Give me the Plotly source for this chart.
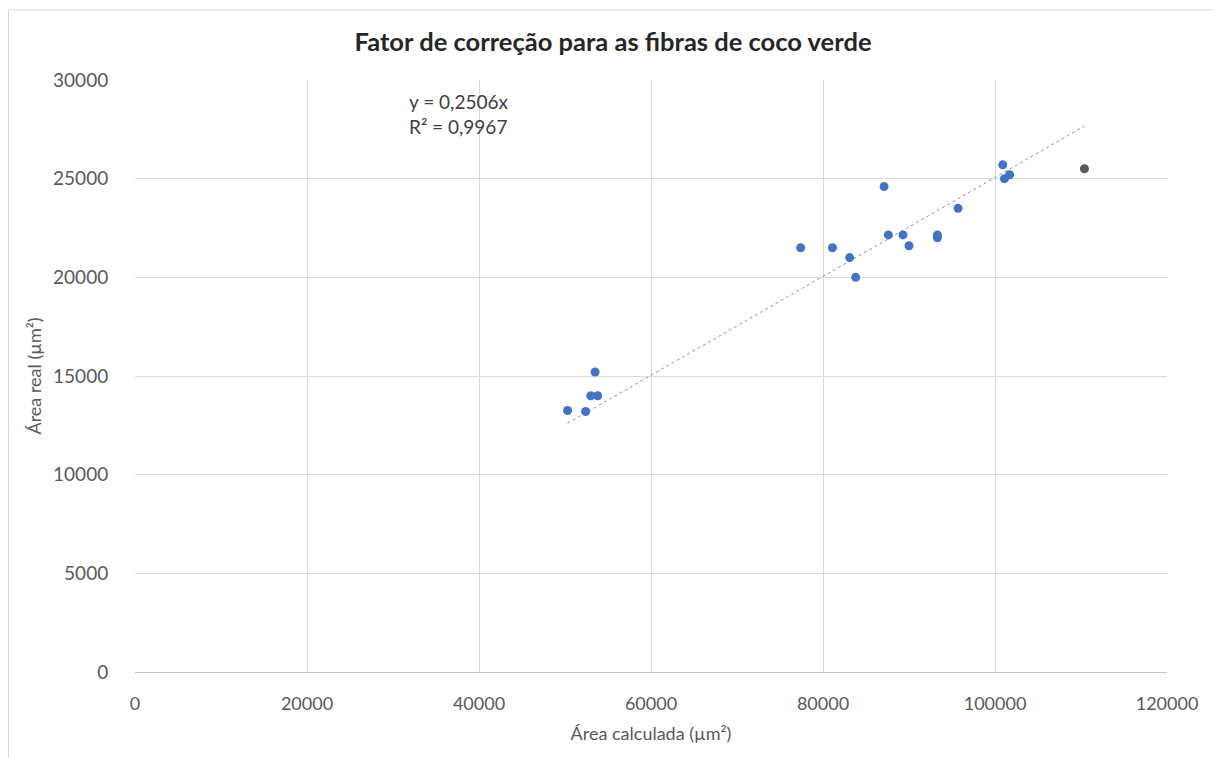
import plotly.graph_objects as go

# Data
area_calculada = [50300, 52400, 53000, 53800, 53500, 77400, 81100, 83100, 83800, 87100, 87600,
                  89300, 90000, 93300, 93300, 95700, 100900, 101100, 101700, 110400]
area_real = [13250, 13200, 14000, 14000, 15200, 21500, 21500, 21000, 20000, 24600, 22150,
             22150, 21600, 22150, 22000, 23500, 25700, 25000, 25200, 25500]
point_colors = ["#4472c4"] * 19 + ["#595959"]

slope = 0.2506
r2 = 0.9967
trend_x = [min(area_calculada), max(area_calculada)]
trend_y = [slope * v for v in trend_x]

x_ticks = [0, 20000, 40000, 60000, 80000, 100000, 120000]
y_ticks = [0, 5000, 10000, 15000, 20000, 25000, 30000]

FONT = "Lato"
fig = go.Figure()
fig.add_trace(go.Scatter(x=trend_x, y=trend_y, mode="lines",
                         line=dict(color="#8497b0", width=1, dash="dot"),
                         showlegend=False, hoverinfo="skip"))
fig.add_trace(go.Scatter(x=area_calculada, y=area_real, mode="markers",
                         marker=dict(color=point_colors, size=9),
                         showlegend=False))

# page body has an 8px margin: figure sits at (8, 8) in the window
W, H = 1214, 750
L, R, T, B = 127, 55, 72, 86
pw, ph = W - L - R, H - T - B

fig.update_layout(
    width=W, height=H,
    margin=dict(l=L, r=R, t=T, b=B),
    paper_bgcolor="white", plot_bgcolor="white",
    font=dict(family=FONT, color="#595959", size=18),
    title=dict(text="<b>Fator de correção para as fibras de coco verde</b>",
               x=(613 - 8) / W, xanchor="center", y=1 - 34 / H, yanchor="middle",
               font=dict(size=25.5, color="#262626", family=FONT)),
    xaxis=dict(range=[0, 120000], tickvals=x_ticks, ticktext=[str(v) for v in x_ticks],
               showgrid=True, gridcolor="#d9d9d9", gridwidth=1,
               showline=True, linecolor="#bfbfbf", zeroline=False,
               ticks="outside", ticklen=15, tickcolor="rgba(0,0,0,0)",
               title=dict(text="Área calculada (µm²)", font=dict(size=18, color="#595959"), standoff=14),
               tickfont=dict(size=18)),
    yaxis=dict(range=[0, 30000], tickvals=y_ticks, ticktext=[str(v) for v in y_ticks],
               showgrid=True, gridcolor="#d9d9d9", gridwidth=1,
               showline=False, zeroline=False,
               ticks="outside", ticklen=22, tickcolor="rgba(0,0,0,0)",
               title=dict(text="Área real (µm²)", font=dict(size=18, color="#595959"), standoff=6),
               tickfont=dict(size=19)),
    annotations=[dict(x=31600, y=29600, xref="x", yref="y", xanchor="left", yanchor="top",
                      align="left", showarrow=False,
                      text=f"y = {str(slope).replace('.', ',')}x<br>R² = {str(r2).replace('.', ',')}",
                      font=dict(size=19, color="#404040"))],
    shapes=[dict(type="rect", xref="paper", yref="paper",
                 x0=-(L - 0.5) / pw, x1=1 + (R - 3) / pw,
                 y0=-(B + 20) / ph, y1=1 + (T - 2) / ph,
                 line=dict(color="#d9d9d9", width=1), fillcolor="rgba(0,0,0,0)")],
)

fig.write_html("out.html")
